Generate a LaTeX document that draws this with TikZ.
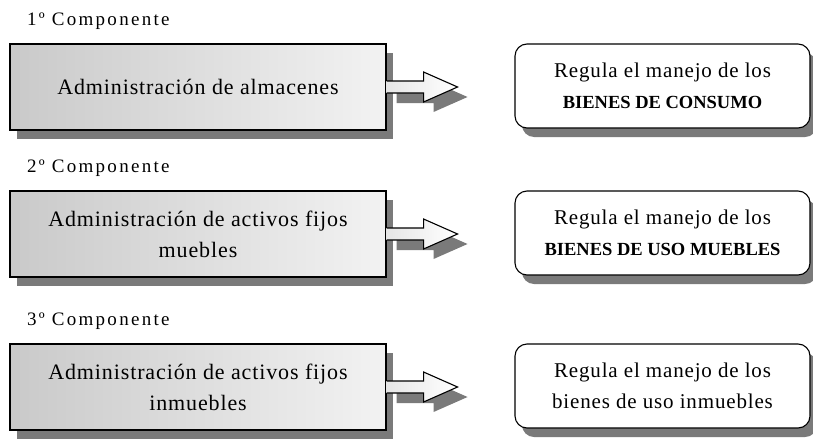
\documentclass[tikz,border=0pt]{standalone}
\usepackage{fontspec}
\setmainfont{Liberation Serif}
\usepackage{xcolor}
\usepackage{tikz}
\usetikzlibrary{calc, shadows, positioning}

\newcommand{\mayus}[1]{{\bfseries\fontsize{18.5}{20}\selectfont\addfontfeatures{LetterSpace=0}#1}}

\begin{document}
\begin{tikzpicture}[x=1pt, y=-1pt,
    caja/.style={draw=black, line width=1.1pt, left color=black!21, right color=black!5,
        minimum width=376pt, minimum height=86pt, align=center,
        font=\fontsize{22}{31}\selectfont\addfontfeatures{LetterSpace=4},
        drop shadow={shadow xshift=7pt, shadow yshift=-9pt, fill=black!52, opacity=1}},
    regla/.style={draw=black, line width=1.1pt, fill=white, rounded corners=12pt,
        minimum width=295pt, minimum height=84pt, align=center,
        font=\fontsize{21}{31}\selectfont\addfontfeatures{LetterSpace=4},
        drop shadow={shadow xshift=7pt, shadow yshift=-9pt, fill=black!52, opacity=1}},
    etiqueta/.style={anchor=west, inner sep=0pt,
        font=\fontsize{19}{22}\selectfont\addfontfeatures{LetterSpace=12}},
    flecha/.style={draw=black, line width=1.1pt, left color=black!10, right color=white,
        drop shadow={shadow xshift=10pt, shadow yshift=-10pt, fill=black!52, opacity=1}}]
    \useasboundingbox (0,0) rectangle (813,439);
    % tres componentes
    \foreach \n/\y/\izq/\der in {%
        1/87/{Administración de almacenes}/{Regula el manejo de los\\\mayus{BIENES DE CONSUMO}},%
        2/234/{Administración de activos fijos\\muebles}/{Regula el manejo de los\\\mayus{BIENES DE USO MUEBLES}},%
        3/387/{Administración de activos fijos\\inmuebles}/{Regula el manejo de los\\bienes de uso inmuebles}}
    {
        \node[etiqueta] (tit\n) at (27,\y-66) {\n º Componente};
        \node[caja] (comp\n) at (198,\y) {\izq};
        \node[regla] (regla\n) at (662.5,\y-1) {\der};
        \draw[flecha] ($(comp\n.east)+(0,-6)$) -- ++(37,0) -- ++(0,-9)
            -- ($(comp\n.east)+(71,0)$) -- ($(comp\n.east)+(37,15)$) -- ++(0,-9)
            -- ($(comp\n.east)+(0,6)$);
    }
\end{tikzpicture}
\end{document}
